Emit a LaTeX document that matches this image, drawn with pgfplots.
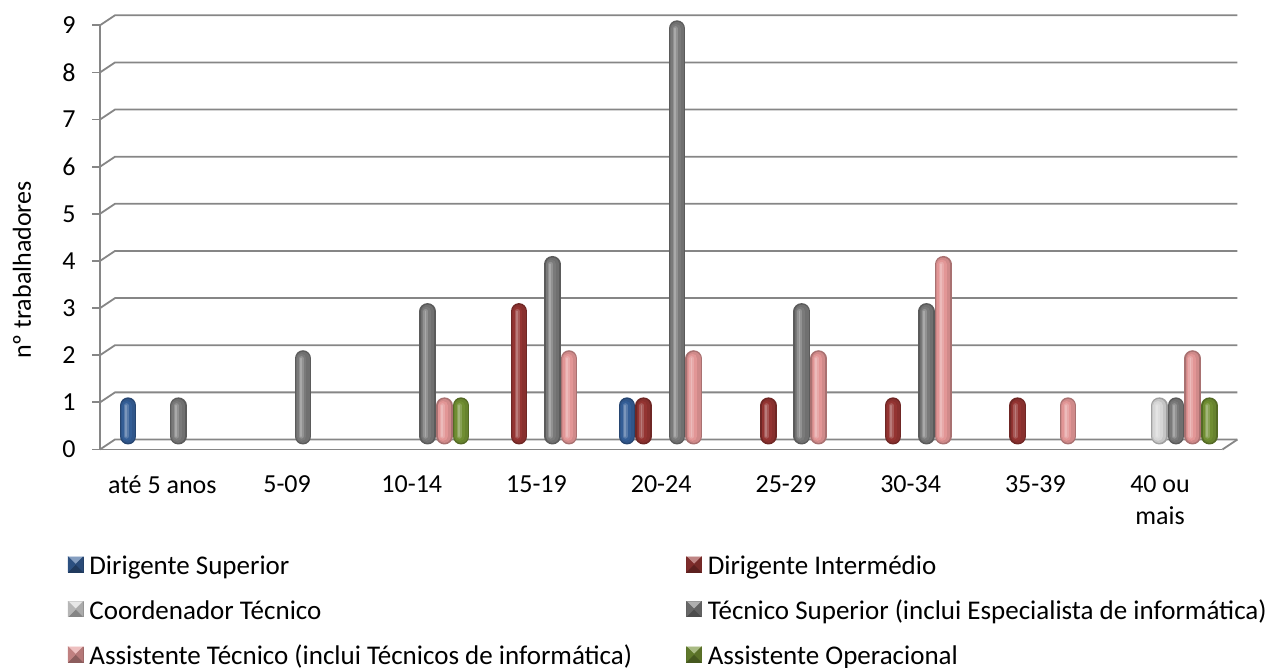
\documentclass[border=0pt]{standalone}
\usepackage{pgfplots}
\pgfplotsset{compat=1.18}
\usepackage{fontspec}
\setmainfont{Carlito}

\definecolor{gridc}{RGB}{134,134,134}
\definecolor{cBlue}{RGB}{52,94,150}
\definecolor{cRed}{RGB}{148,52,50}
\definecolor{cWhite}{RGB}{214,214,214}
\definecolor{cGray}{RGB}{122,122,122}
\definecolor{cPink}{RGB}{226,150,150}
\definecolor{cGreen}{RGB}{112,142,50}

\newcommand\chartfont{\fontsize{26}{32}\selectfont}
\newcommand\legendfont{\fontsize{27}{32}\selectfont}

% capsule bars built from nested round-capped strokes (cylinder look)
\pgfplotsset{
  capsule/.style={forget plot, no markers, sharp plot,
    line cap=round, shorten <=8.35pt, shorten >=8.35pt, yshift=5pt},
  bevel/.style={legend image code/.code={
    \fill[#1!62!black] (0pt,-6pt) rectangle (15pt,9pt);
    \fill[#1!60!white] (0pt,9pt) -- (15pt,9pt) -- (7.5pt,1.5pt) -- cycle;
    \fill[#1!85!black] (0pt,-6pt) -- (0pt,9pt) -- (7.5pt,1.5pt) -- cycle;
    \fill[#1!80!black] (15pt,-6pt) -- (15pt,9pt) -- (7.5pt,1.5pt) -- cycle;
  }},
}
% #1 = band centre, #2 = workers, #3 = shift of the series, #4 = colour
\newcommand\cyl[4]{%
  \addplot[capsule, draw=#4!75!black, line width=16.7pt, xshift=#3] coordinates {(#1,0) (#1,#2)};
  \addplot[capsule, draw=#4!92!black, line width=13.5pt, xshift=#3] coordinates {(#1,0) (#1,#2)};
  \addplot[capsule, draw=#4, line width=9.5pt, xshift=#3-1.2pt] coordinates {(#1,0) (#1,#2)};
  \addplot[capsule, draw=#4!82!white, line width=5pt, xshift=#3-1.8pt] coordinates {(#1,0) (#1,#2)};
  \addplot[capsule, draw=#4!65!white, line width=1.8pt, xshift=#3-2.2pt] coordinates {(#1,0) (#1,#2)};
}
% #1 = colour, #2 = shift, #3 = list of band/workers pairs
\newcommand\cylseries[3]{%
  \pgfplotsforeachungrouped \bx/\bn in {#3}{%
    \edef\doit{\noexpand\cyl{\bx}{\bn}{#2}{#1}}\doit}}
% one back-wall grid line at height #1
\newcommand\wall[1]{%
  \draw[gridc, line width=1.8pt] (axis cs:0,#1) -- ([shift={(15pt,10pt)}]axis cs:0,#1) -- ([shift={(15pt,10pt)}]axis cs:9,#1);}

\begin{document}
\begin{tikzpicture}
\path[use as bounding box] (0,0) rectangle (1273pt,668pt);
\begin{axis}[
  at={(100pt,218.5pt)}, anchor=south west,
  scale only axis, width=1122.5pt, height=424.2pt,
  xmin=0, xmax=9, ymin=0, ymax=9, clip=false,
  axis x line*=bottom, axis y line*=left,
  axis line style={gridc, line width=1.8pt},
  tick align=outside, major tick length=8pt,
  tick style={gridc, line width=1.8pt},
  /pgf/number format/assume math mode=true,
  xtick={0.5,1.5,2.5,3.5,4.5,5.5,6.5,7.5,8.5},
  xticklabels={até 5 anos,5-09,10-14,15-19,20-24,25-29,30-34,35-39,{40 ou\\mais}},
  x tick style={draw=none},
  extra x ticks={0,1,2,3,4,5,6,7,8,9},
  extra x tick labels={},
  extra x tick style={tick style={gridc, line width=1.8pt}},
  xticklabel style={align=center, font=\chartfont, yshift=-15pt},
  ytick={0,1,2,3,4,5,6,7,8,9},
  yticklabel style={font=\chartfont, xshift=-13pt},
  ylabel={nº trabalhadores},
  ylabel style={font=\chartfont, at={(axis description cs:-0.0695,0.423)}, anchor=center},
  legend columns=2,
  legend cell align=left,
  legend style={draw=none, fill=none, inner sep=0pt, font=\legendfont,
    at={(axis description cs:-0.0287,-0.2452)}, anchor=north west,
    column sep=4pt, row sep=20pt,
    /tikz/column 2/.style={text width=591pt,
      execute at begin node={\spaceskip=0pt\xspaceskip=0pt}}},
]
% back wall and floor
\wall{0}\wall{1}\wall{2}\wall{3}\wall{4}\wall{5}\wall{6}\wall{7}\wall{8}\wall{9}
\draw[gridc, line width=1.8pt] (axis cs:9,0) -- ([shift={(15pt,10pt)}]axis cs:9,0);

% Dirigente Superior
\cylseries{cBlue}{-34.25pt}{0.5/1, 4.5/1}
% Dirigente Intermédio
\cylseries{cRed}{-17.55pt}{3.5/3, 4.5/1, 5.5/1, 6.5/1, 7.5/1}
% Coordenador Técnico
\cylseries{cWhite}{-0.85pt}{8.5/1}
% Técnico Superior
\cylseries{cGray}{15.85pt}{0.5/1, 1.5/2, 2.5/3, 3.5/4, 4.5/9, 5.5/3, 6.5/3, 8.5/1}
% Assistente Técnico
\cylseries{cPink}{32.55pt}{2.5/1, 3.5/2, 4.5/2, 5.5/2, 6.5/4, 7.5/1, 8.5/2}
% Assistente Operacional
\cylseries{cGreen}{49.25pt}{2.5/1, 8.5/1}

\addlegendimage{bevel=cBlue}\addlegendentry{Dirigente Superior}
\addlegendimage{bevel=cRed}\addlegendentry{Dirigente Intermédio}
\addlegendimage{bevel=cWhite}\addlegendentry{Coordenador Técnico}
\addlegendimage{bevel=cGray}\addlegendentry{Técnico Superior (inclui Especialista de informática)}
\addlegendimage{bevel=cPink}\addlegendentry{Assistente Técnico (inclui Técnicos de informática)}
\addlegendimage{bevel=cGreen}\addlegendentry{Assistente Operacional}
\end{axis}
\end{tikzpicture}
\end{document}
